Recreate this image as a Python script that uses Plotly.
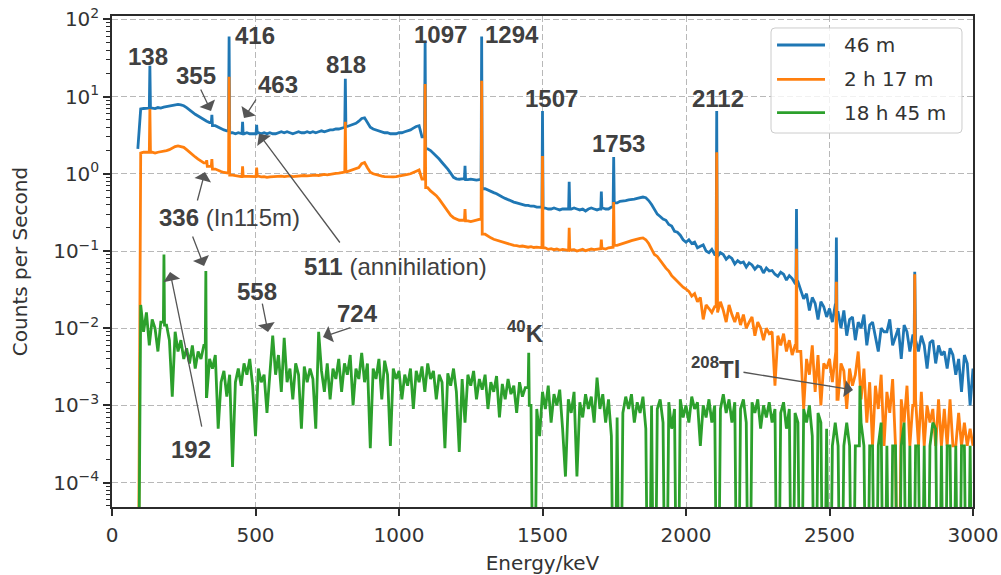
import plotly.graph_objects as go

# ---------------- data ----------------
energy_keV = list(range(90, 3001, 10))  # channel energies of the listed continuum values

counts_46m = [
    2.1,
    6.9, 7.0, 7.1, 7.0, 7.1, 7.0, 7.2, 7.1, 7.3, 7.4,
    7.5, 7.7, 7.8, 7.9, 7.8, 7.6, 7.2, 6.7, 6.3, 5.9,
    5.6, 5.3, 5.0, 4.8, 4.6, 4.4, 4.2, 4.0, 3.8, 3.7,
    3.6, 3.5, 3.4, 3.3, 3.4, 3.3, 3.3, 3.4, 3.3, 3.3,
    3.3, 3.4, 3.3, 3.4, 3.3, 3.4, 3.3, 3.3, 3.4, 3.5,
    3.4, 3.5, 3.4, 3.3, 3.4, 3.5, 3.4, 3.4, 3.5, 3.4,
    3.5, 3.4, 3.5, 3.6, 3.5, 3.6, 3.7, 3.7, 3.8, 3.8,
    3.9, 4.0, 4.1, 4.2, 4.3, 4.5, 4.8, 5.2, 5.3, 4.5,
    4.0, 3.8, 3.7, 3.6, 3.5, 3.4, 3.4, 3.3, 3.3, 3.3,
    3.4, 3.4, 3.5, 3.6, 3.7, 3.9, 4.1, 4.2, 3.0, 2.3,
    2.1, 2.0, 1.85, 1.7, 1.55, 1.4, 1.28, 1.15, 1.02, 0.9,
    0.86, 0.85, 0.86, 0.85, 0.84, 0.85, 0.84, 0.83, 0.84, 0.82,
    0.64, 0.62, 0.60, 0.57, 0.55, 0.52, 0.50, 0.48, 0.46, 0.44,
    0.43, 0.42, 0.41, 0.40, 0.39, 0.39, 0.38, 0.38, 0.37, 0.37,
    0.36, 0.36, 0.35, 0.35, 0.36, 0.35, 0.34, 0.35, 0.35, 0.35,
    0.35, 0.36, 0.35, 0.34, 0.35, 0.33, 0.35, 0.36, 0.35, 0.34,
    0.35, 0.36, 0.35, 0.35, 0.37, 0.40, 0.42, 0.44, 0.45, 0.45,
    0.46, 0.46, 0.47, 0.48, 0.49, 0.50, 0.49, 0.45, 0.40, 0.34,
    0.30, 0.28, 0.26, 0.25, 0.22, 0.21, 0.18, 0.175, 0.16, 0.14,
    0.13, 0.14, 0.125, 0.13, 0.11, 0.115, 0.12, 0.1, 0.095, 0.105,
    0.09, 0.085, 0.095, 0.09, 0.078, 0.085, 0.08, 0.068, 0.075, 0.07,
    0.072, 0.062, 0.07, 0.066, 0.058, 0.064, 0.062, 0.052, 0.06, 0.055,
    0.056, 0.05, 0.047, 0.053, 0.05, 0.042, 0.048, 0.044, 0.038, 0.04,
    0.030, 0.024, 0.028, 0.017, 0.025, 0.021, 0.013, 0.022, 0.019, 0.014,
    0.018, 0.012, 0.02, 0.016, 0.01, 0.017, 0.008, 0.013, 0.014, 0.007,
    0.012, 0.01, 0.015, 0.006, 0.011, 0.012, 0.008, 0.005, 0.01, 0.009,
    0.009, 0.013, 0.006, 0.008, 0.01, 0.004, 0.011, 0.009, 0.005, 0.008,
    0.007, 0.005, 0.008, 0.006, 0.003, 0.0065, 0.007, 0.0035, 0.006, 0.0045,
    0.005, 0.003, 0.0055, 0.0045, 0.0025, 0.004, 0.0015, 0.0045, 0.0035, 0.001, 0.003,
]

counts_2h17m = [
    0,
    1.85, 1.9, 1.9, 1.88, 1.9, 1.85, 1.9, 1.92, 1.95, 2.0,
    2.05, 2.15, 2.25, 2.3, 2.25, 2.2, 2.05, 1.9, 1.75, 1.65,
    1.55, 1.45, 1.38, 1.3, 1.25, 1.2, 1.15, 1.1, 1.07, 1.04,
    1.02, 1.0, 0.96, 0.94, 0.93, 0.92, 0.93, 0.92, 0.91, 0.92,
    0.92, 0.93, 0.91, 0.92, 0.9, 0.91, 0.92, 0.91, 0.92, 0.93,
    0.92, 0.93, 0.94, 0.92, 0.93, 0.94, 0.93, 0.95, 0.94, 0.95,
    0.95, 0.96, 0.95, 0.97, 0.98, 0.97, 0.99, 1.0, 1.01, 1.02,
    1.03, 1.05, 1.07, 1.1, 1.12, 1.15, 1.2, 1.35, 1.4, 1.2,
    1.05, 1.0, 0.97, 0.95, 0.93, 0.92, 0.91, 0.92, 0.91, 0.92,
    0.93, 0.94, 0.96, 0.98, 1.0, 1.03, 1.08, 1.12, 0.85, 0.8,
    0.66, 0.6, 0.56, 0.52, 0.47, 0.42, 0.37, 0.33, 0.29, 0.27,
    0.26, 0.25, 0.25, 0.24, 0.245, 0.24, 0.245, 0.25, 0.26, 0.27,
    0.165, 0.155, 0.148, 0.142, 0.138, 0.134, 0.13, 0.127, 0.124, 0.12,
    0.118, 0.117, 0.115, 0.116, 0.113, 0.112, 0.114, 0.111, 0.112, 0.11,
    0.108, 0.11, 0.105, 0.107, 0.104, 0.106, 0.103, 0.105, 0.104, 0.102,
    0.103, 0.104, 0.1, 0.102, 0.105, 0.101, 0.103, 0.106, 0.104, 0.105,
    0.107, 0.108, 0.106, 0.11, 0.112, 0.115, 0.118, 0.122, 0.125, 0.128,
    0.132, 0.136, 0.14, 0.143, 0.146, 0.148, 0.14, 0.125, 0.105, 0.09,
    0.085, 0.075, 0.068, 0.06, 0.055, 0.048, 0.044, 0.04, 0.037, 0.034,
    0.032, 0.03, 0.026, 0.028, 0.022, 0.025, 0.013, 0.02, 0.018, 0.016,
    0.019, 0.016, 0.022, 0.017, 0.012, 0.02, 0.015, 0.012, 0.016, 0.011,
    0.015, 0.01, 0.012, 0.014, 0.008, 0.012, 0.01, 0.007, 0.01, 0.0085,
    0.009, 0.0018, 0.008, 0.006, 0.0085, 0.005, 0.007, 0.0045, 0.006, 0.005,
    0.005, 0.0009, 0.004, 0.0025, 0.006, 0.0015, 0.0045, 0.001, 0.0035, 0.003,
    0.004, 0.002, 0.005, 0.0012, 0.0035, 0.0028, 0.0009, 0.003, 0.0018, 0.0025,
    0.005, 0.0012, 0.003, 0.0006, 0.002, 0.0003, 0.0018, 0.0009, 0.0025, 0.0003,
    0.0015, 0.0008, 0.0022, 0.0003, 0, 0.0012, 0.0006, 0.0018, 0.0003, 0.001,
    0.0012, 0.0003, 0.0015, 0.0003, 0.001, 0.0006, 0.0009, 0.0003, 0.0012, 0.0003,
    0.0009, 0.0003, 0.0012, 0.0003, 0.0003, 0.0008, 0.0003, 0.0006, 0.0003, 0.0005, 0.0003,
]

counts_18h45m = [
    0,
    0.02, 0.009, 0.016, 0.006, 0.013, 0.010, 0.005, 0.012, 0.008, 0.011,
    0.007, 0.0013, 0.009, 0.005, 0.007, 0.004, 0.0055, 0.0035, 0.006, 0.003,
    0.005, 0.004, 0.006, 0.0013, 0.004, 0.003, 0.0045, 0.0005, 0.002, 0.0028,
    0.0013, 0.0025, 0.00016, 0.002, 0.003, 0.0018, 0.0035, 0.0025, 0.004, 0.0018,
    0.0004, 0.003, 0.002, 0.0025, 0.0008, 0.003, 0.008, 0.0025, 0.0045, 0.0015,
    0.0075, 0.002, 0.003, 0.0012, 0.0035, 0.0025, 0.0005, 0.0032, 0.002, 0.003,
    0.0022, 0.0005, 0.009, 0.0028, 0.0015, 0.0035, 0.0012, 0.003, 0.0022, 0.004,
    0.0015, 0.0035, 0.0025, 0.0045, 0.001, 0.003, 0.0022, 0.0048, 0.002, 0.0035,
    0.00028, 0.003, 0.0022, 0.004, 0.0012, 0.0038, 0.0025, 0.0003, 0.003, 0.0022,
    0.0028, 0.0012, 0.0025, 0.0018, 0.003, 0.0009, 0.0028, 0.002, 0.0032, 0.0015,
    0.0035, 0.0022, 0.0028, 0.0012, 0.0025, 0.002, 0.00028, 0.0026, 0.0018, 0.003,
    0.0015, 0.00025, 0.0022, 0.0006, 0.0025, 0.0018, 0.0028, 0.0012, 0.0022, 0.0016,
    0.0025, 0.0009, 0.002, 0.0015, 0.0024, 0.0007, 0.0019, 0.0012, 0.0022, 0.0014,
    0.0018, 0.0008, 0.002, 0.0013, 0.0017, 0.0022, 0.001, 0, 0.0009, 0.0004,
    0.0015, 0.0009, 0.0018, 0.0006, 0.0014, 0.001, 0.0016, 0.0005, 0.00012, 0.0012,
    0.0008, 0.0015, 0.00012, 0.0011, 0.0007, 0.0014, 0.0009, 0.0013, 0.0006, 0.0023,
    0.0009, 0.0014, 0.0006, 0.0012, 0.0004, 0, 0.0007, 0, 0.0008, 0.0013,
    0.0009, 0.0014, 0.0006, 0.0011, 0.0008, 0.0013, 0.0005, 0, 0.001, 0,
    0.0009, 0.0012, 0.0006, 0, 0.0011, 0.0005, 0.0009, 0, 0.0012, 0.0007,
    0.001, 0.0006, 0.0013, 0.0009, 0.0011, 0.0003, 0.001, 0.0007, 0.0012, 0.0006,
    0.001, 0, 0.0009, 0.0014, 0.0008, 0.0012, 0.0006, 0.0011, 0, 0.0009,
    0.0012, 0.0006, 0, 0.0011, 0.0008, 0.0012, 0.0005, 0.001, 0.0007, 0.0011,
    0.0006, 0.0009, 0, 0.0008, 0.0011, 0.0005, 0.0009, 0, 0.0008, 0.0006,
    0, 0.0009, 0.0006, 0.001, 0.0004, 0, 0.0008, 0.0006, 0, 0.0005,
    0, 0.0003, 0.0006, 0.0003, 0, 0.0003, 0.0006, 0.0003, 0, 0.0003,
    0.0003, 0.0006, 0.0003, 0, 0.0003, 0.0003, 0, 0.0003, 0.0006, 0,
    0.0003, 0, 0.0003, 0.0003, 0, 0.0003, 0.0006, 0, 0.0003, 0,
    0.0003, 0.0003, 0, 0.0003, 0, 0.0003, 0.0006, 0.0005, 0, 0.0003,
    0, 0.0003, 0.0003, 0, 0.0003, 0, 0.0003, 0.0003, 0, 0.0003, 0,
]

# photo-peaks (position in keV, peak height in counts per second)
peak_keV_46m = [132, 348, 408, 455, 504, 813, 1091, 1230, 1288, 1500, 1593, 1705, 1748, 2107, 2385, 2524, 2797]
peak_cps_46m = [25, 5.8, 60, 4.7, 4.3, 17, 52, 1.27, 60, 6.5, 0.79, 0.59, 1.65, 6.5, 0.35, 0.15, 0.054]
peak_keV_2h17m = [132, 330, 348, 408, 455, 504, 813, 1091, 1230, 1288, 1500, 1593, 1705, 1748, 2107, 2385, 2524, 2797]
peak_cps_2h17m = [6.9, 1.5, 1.55, 18, 1.25, 1.2, 4.7, 14.5, 0.35, 16, 1.7, 0.2, 0.14, 0.43, 1.9, 0.107, 0.04, 0.05]
peak_keV_18h45m = [181, 327, 1452, 2606]
peak_cps_18h45m = [0.09, 0.055, 0.0048, 0.0018]

series_names = ["46 m", "2 h 17 m", "18 h 45 m"]
series_colors = ["#1f77b4", "#ff7f0e", "#2ca02c"]

x_tick_vals = [0, 500, 1000, 1500, 2000, 2500, 3000]
y_tick_vals = [1e-4, 1e-3, 1e-2, 1e-1, 1e0, 1e1, 1e2]
y_tick_text = ["10<sup>\u22124</sup>", "10<sup>\u22123</sup>", "10<sup>\u22122</sup>",
               "10<sup>\u22121</sup>", "10<sup>0</sup>", "10<sup>1</sup>", "10<sup>2</sup>"]

assert len(counts_46m) == len(energy_keV)
assert len(counts_2h17m) == len(energy_keV)
assert len(counts_18h45m) == len(energy_keV)


def build_spectrum(grid, vals, pk_e, pk_v, half=2):
    """Combine continuum values with narrow photo-peaks."""
    lookup = dict(zip(grid, vals))
    pts = dict(lookup)
    for e, p in zip(pk_e, pk_v):
        left = max(g for g in grid if g < e - half)
        right = min(g for g in grid if g > e + half)
        for g in grid:
            if abs(g - e) <= half:
                pts.pop(g, None)
        pts[e - half] = lookup[left]
        pts[e] = p
        pts[e + half] = lookup[right]
    xs = sorted(pts)
    # zero counts cannot be shown on a log axis: send them far below the visible range
    ys = [pts[k] if pts[k] > 0 else 1e-7 for k in xs]
    return xs, ys


fig = go.Figure()
all_series = [
    (counts_46m, peak_keV_46m, peak_cps_46m),
    (counts_2h17m, peak_keV_2h17m, peak_cps_2h17m),
    (counts_18h45m, peak_keV_18h45m, peak_cps_18h45m),
]
for (vals, pe, pv), name, col in zip(all_series, series_names, series_colors):
    xs, ys = build_spectrum(energy_keV, vals, pe, pv)
    fig.add_trace(go.Scatter(x=xs, y=ys, mode="lines", name=name,
                             line=dict(color=col, width=2.8), showlegend=False))

axis_color = "#2b2b2b"
grid_color = "#b8b8b8"
tick_font = dict(family="DejaVu Sans", size=20, color="#333333")

fig.update_layout(
    width=1001, height=575,
    margin=dict(l=112, r=28, t=16, b=68),
    plot_bgcolor="white", paper_bgcolor="white",
    font=dict(family="DejaVu Sans", size=20, color="#333333"),
    showlegend=False,
)
fig.update_xaxes(
    range=[0, 3000], tickvals=x_tick_vals, ticks="outside", ticklen=7, tickwidth=1.5,
    tickcolor=axis_color, showline=True, linecolor=axis_color, linewidth=1.5, mirror=True,
    showgrid=True, gridcolor=grid_color, gridwidth=1, griddash="6px,3px", zeroline=False,
    tickfont=tick_font, ticklabelstandoff=2, automargin=False,
    title=dict(text="Energy/keV", font=dict(family="DejaVu Sans", size=20, color="#333333"), standoff=12),
)
fig.update_yaxes(
    type="log", range=[-4.315, 2.043], tickvals=y_tick_vals, ticktext=y_tick_text,
    ticks="outside", ticklen=7, tickwidth=1.5, tickcolor=axis_color,
    minor=dict(ticks="outside", ticklen=4, tickwidth=1.1, tickcolor=axis_color, dtick="D1", showgrid=False),
    showline=True, linecolor=axis_color, linewidth=1.5, mirror=True,
    showgrid=True, gridcolor=grid_color, gridwidth=1, griddash="6px,3px", zeroline=False,
    tickfont=tick_font, automargin=False,
    title=dict(text="Counts per Second", font=dict(family="DejaVu Sans", size=20, color="#333333"), standoff=20),
)

# ---------------- peak labels ----------------
ann_font = dict(family="Liberation Sans, Arial, sans-serif", size=24, color="#404040")
labels = [
    ("<b>138</b>", 0.0418, 0.9185),
    ("<b>355</b>", 0.0976, 0.8798),
    ("<b>416</b>", 0.1661, 0.9593),
    ("<b>463</b>", 0.1928, 0.8615),
    ("<b>818</b>", 0.2718, 0.9022),
    ("<b>1097</b>", 0.3810, 0.9633),
    ("<b>1294</b>", 0.4646, 0.9633),
    ("<b>1507</b>", 0.5110, 0.8320),
    ("<b>1753</b>", 0.5877, 0.7413),
    ("<b>2112</b>", 0.7038, 0.8320),
    ("<b>336</b> (In115m)", 0.1359, 0.5886),
    ("<b>511</b> (annihilation)", 0.3298, 0.4908),
    ("<b>558</b>", 0.1684, 0.4399),
    ("<b>724</b>", 0.2846, 0.3931),
    ("<b>192</b>", 0.0918, 0.1181),
    ("<b><sup>40</sup>K</b>", 0.4797, 0.3564),
    ("<b><sup>208</sup>Tl</b>", 0.7015, 0.2831),
]
for txt, xp, yp in labels:
    fig.add_annotation(text=txt, x=xp, y=yp, xref="paper", yref="paper",
                       showarrow=False, font=ann_font, xanchor="center", yanchor="middle")

# arrows: tip (paper coords) and tail offset (pixels)
arrows = [
    (0.1150, 0.8065, -11, -23),
    (0.1533, 0.7923, 13, -20),
    (0.1080, 0.6823, -8, 30),
    (0.1069, 0.4908, -12, -31),
    (0.1707, 0.7597, 82, 110),
    (0.1812, 0.3564, -6, -30),
    (0.2451, 0.3462, 29, -10),
    (0.0674, 0.4786, 32, 156),
    (0.8606, 0.2383, -111, -18),
]
for xp, yp, axp, ayp in arrows:
    fig.add_annotation(text="", x=xp, y=yp, xref="paper", yref="paper",
                       ax=axp, ay=ayp, axref="pixel", ayref="pixel",
                       showarrow=True, arrowhead=1, arrowsize=2.2, arrowwidth=1.3,
                       arrowcolor="#555555", standoff=0, startstandoff=0)

# ---------------- legend box (matplotlib style) ----------------
lx0, lx1, ly0, ly1 = 0.7654, 0.9872, 0.7617, 0.9756
rx, ry = 0.0046, 0.0081
legend_path = (
    f"M{lx0 + rx},{ly0} L{lx1 - rx},{ly0} Q{lx1},{ly0} {lx1},{ly0 + ry} "
    f"L{lx1},{ly1 - ry} Q{lx1},{ly1} {lx1 - rx},{ly1} L{lx0 + rx},{ly1} "
    f"Q{lx0},{ly1} {lx0},{ly1 - ry} L{lx0},{ly0 + ry} Q{lx0},{ly0} {lx0 + rx},{ly0} Z"
)
fig.add_shape(type="path", path=legend_path, xref="paper", yref="paper",
              fillcolor="rgba(255,255,255,0.8)", line=dict(color="#cccccc", width=1), layer="above")
legend_rows_y = [0.9409, 0.8711, 0.8031]
for name, col, yy in zip(series_names, series_colors, legend_rows_y):
    fig.add_shape(type="line", x0=0.7724, x1=0.8281, y0=yy, y1=yy, xref="paper", yref="paper",
                  line=dict(color=col, width=2.8), layer="above")
    fig.add_annotation(text=name, x=0.8479, y=yy, xref="paper", yref="paper", showarrow=False,
                       xanchor="left", yanchor="middle",
                       font=dict(family="DejaVu Sans", size=20, color="#333333"))

fig.write_html("out.html")
